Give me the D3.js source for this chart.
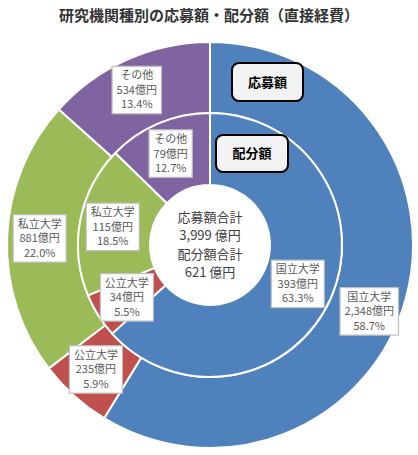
<!DOCTYPE html>
<html>
<head>
<meta charset="utf-8">
<script src="https://cdn.jsdelivr.net/npm/d3@7.9.0/dist/d3.min.js"></script>
<style>
  body { margin: 0; background: #fff; }
  svg { display: block; font-family: "Noto Sans CJK JP", "Noto Sans", sans-serif; }
</style>
</head>
<body>
<div id="chart"></div>
<script>
// data
const categories = ['国立大学', '公立大学', '私立大学', 'その他'];
const appliedValues = [2348, 235, 881, 534];          // 応募額 (億円)
const appliedShares = ['58.7%', '5.9%', '22.0%', '13.4%'];
const allocatedValues = [393, 34, 115, 79];           // 配分額 (億円)
const allocatedShares = ['63.3%', '5.5%', '18.5%', '12.7%'];
const appliedTotal = '3,999';
const allocatedTotal = '621';

const colors = ['#4f81bd', '#c0504d', '#9bbb59', '#8064a2'];

const width = 418;
const height = 455;
const cx = 210, cy = 245;
const holeR = 60, midR = 132, outerR = 203;

// nudges for data labels, relative to the slice centroid
const outerNudge = [[-2, 21], [-2, 0], [-3, 0], [-5, -2]];
const innerNudge = [[0, 0], [-2, 1], [-3, 0], [-2, -3]];

const svg = d3.select('#chart')
  .append('svg')
  .attr('width', width)
  .attr('height', height);

// title
svg.append('text')
  .attr('x', 209)
  .attr('y', 21)
  .attr('text-anchor', 'middle')
  .style('font-size', '15px')
  .style('font-weight', 'bold')
  .attr('fill', '#333')
  .text('研究機関種別の応募額・配分額（直接経費）');

const pie = d3.pie().sort(null).value(d => d);
const g = svg.append('g').attr('transform', `translate(${cx},${cy})`);

function drawRing(values, r0, r1, cls) {
  const arc = d3.arc().innerRadius(r0).outerRadius(r1);
  const arcs = pie(values);
  g.append('g').attr('class', cls)
    .selectAll('path')
    .data(arcs)
    .join('path')
      .attr('d', arc)
      .attr('fill', (d, i) => colors[i])
      .attr('stroke', '#fff')
      .attr('stroke-width', 2)
      .attr('stroke-linejoin', 'round');
  return { arc, arcs };
}

const outer = drawRing(appliedValues, midR, outerR, 'outer');
const inner = drawRing(allocatedValues, holeR, midR, 'inner');

// data label: white box, three grey lines
function drawLabels(ring, values, shares, nudge) {
  ring.arcs.forEach((d, i) => {
    const [x, y] = ring.arc.centroid(d);
    const lg = g.append('g')
      .attr('transform', `translate(${x + nudge[i][0]},${y + nudge[i][1]})`);
    const box = lg.append('rect');
    const lines = [categories[i], d3.format(',')(values[i]) + '億円', shares[i]];
    const lh = 14.5;
    let maxW = 0;
    lines.forEach((t, k) => {
      const tx = lg.append('text')
        .attr('x', 0)
        .attr('y', (k - 1) * lh)
        .attr('dy', '0.36em')
        .attr('text-anchor', 'middle')
        .style('font-size', '11px')
        .attr('fill', '#595959')
        .text(t);
      maxW = Math.max(maxW, tx.node().getComputedTextLength());
    });
    const bw = maxW + 9, bh = lh * 3 + 4;
    box.attr('x', -bw / 2).attr('y', -bh / 2)
      .attr('width', bw).attr('height', bh)
      .attr('fill', '#fff')
      .attr('stroke', '#bfbfbf')
      .attr('stroke-width', 1.2);
  });
}

drawLabels(outer, appliedValues, appliedShares, outerNudge);
drawLabels(inner, allocatedValues, allocatedShares, innerNudge);

// totals in the hole
const centerLines = ['応募額合計', appliedTotal + ' 億円', '配分額合計', allocatedTotal + ' 億円'];
centerLines.forEach((t, k) => {
  g.append('text')
    .attr('x', 0)
    .attr('y', (k - 1.5) * 18.5)
    .attr('dy', '0.36em')
    .attr('text-anchor', 'middle')
    .style('font-size', '13px')
    .attr('fill', '#404040')
    .text(t);
});

// ring name callouts
const callouts = [
  { text: '応募額', x: 232, y: 63, w: 71, h: 38 },
  { text: '配分額', x: 216, y: 135, w: 72, h: 37 }
];
callouts.forEach(c => {
  svg.append('rect')
    .attr('x', c.x).attr('y', c.y)
    .attr('width', c.w).attr('height', c.h)
    .attr('rx', 7)
    .attr('fill', '#f2f2f2')
    .attr('stroke', '#000')
    .attr('stroke-width', 2);
  svg.append('text')
    .attr('x', c.x + c.w / 2)
    .attr('y', c.y + c.h / 2)
    .attr('dy', '0.36em')
    .attr('text-anchor', 'middle')
    .style('font-size', '13px')
    .style('font-weight', 'bold')
    .attr('fill', '#000')
    .text(c.text);
});
</script>
</body>
</html>
